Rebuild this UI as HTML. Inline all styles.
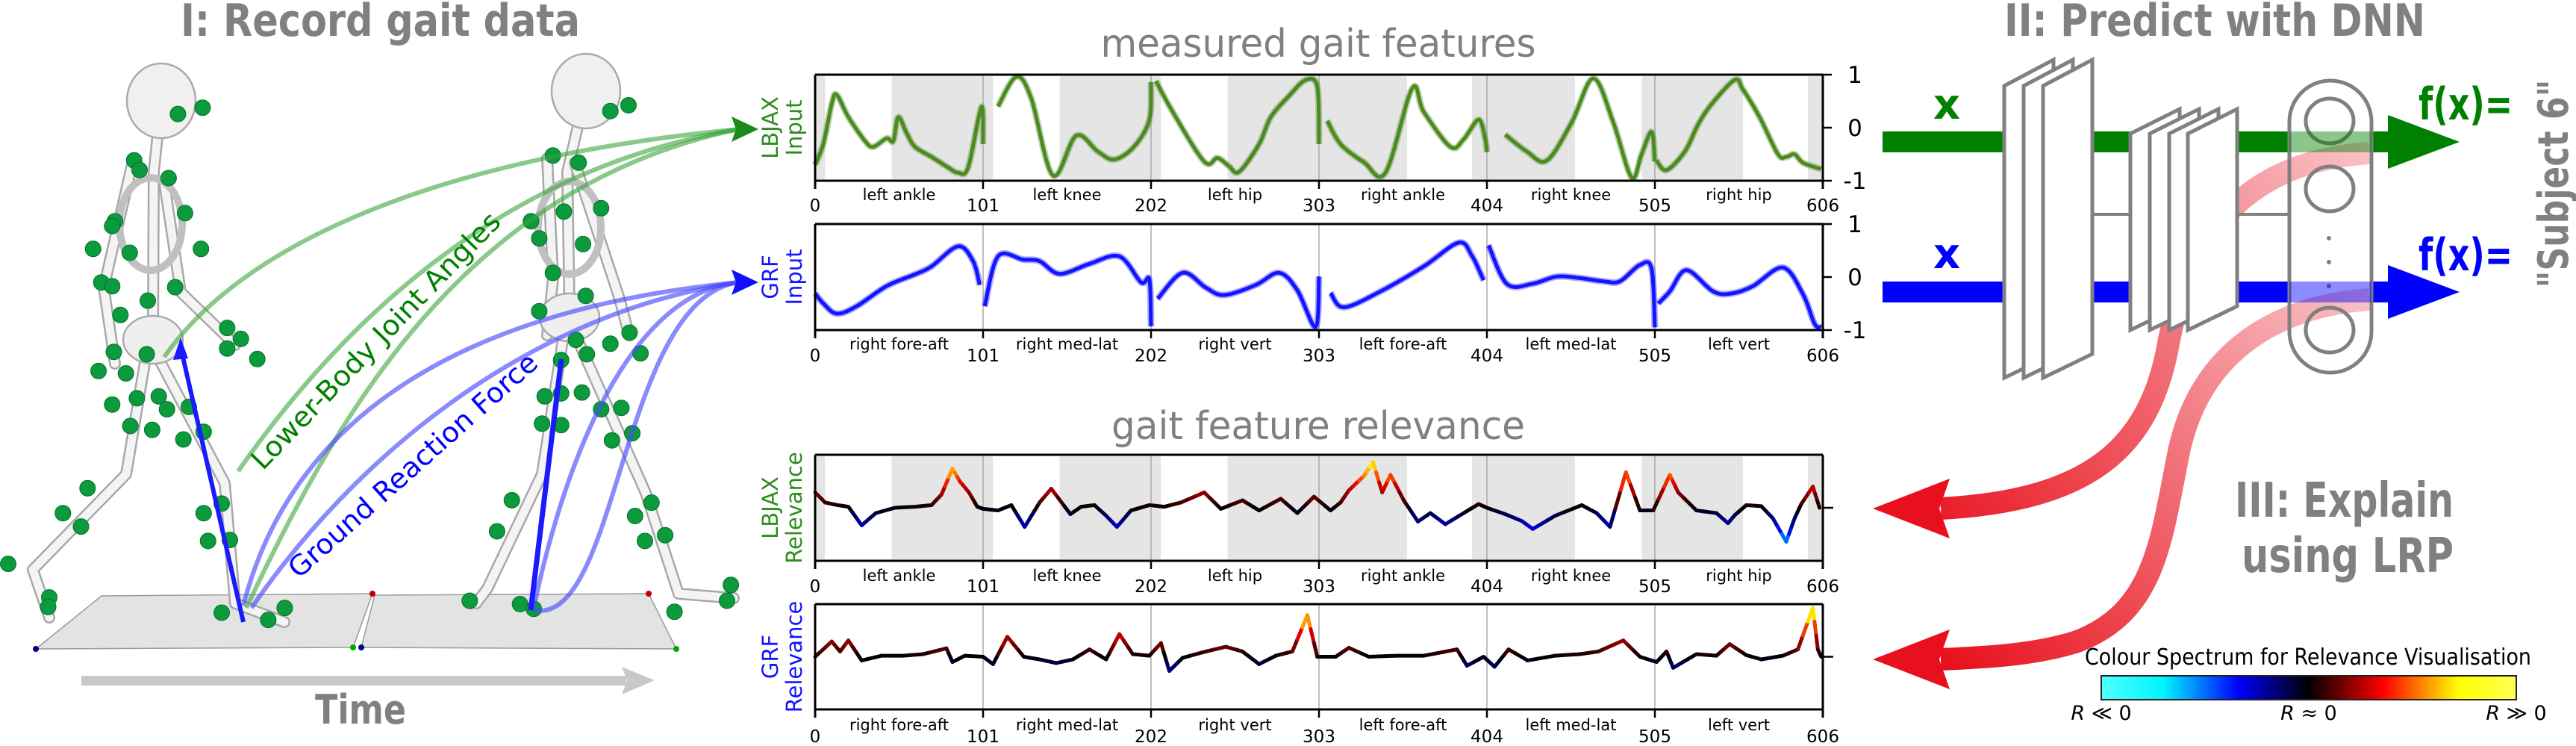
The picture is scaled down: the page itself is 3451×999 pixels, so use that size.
<!DOCTYPE html>
<html><head><meta charset="utf-8"><style>
html,body{margin:0;padding:0;background:#fff;}
svg{display:block;}
text{font-family:"DejaVu Sans","Liberation Sans",sans-serif;}
.ttl{font-family:"DejaVu Sans Condensed","DejaVu Sans",sans-serif;font-weight:bold;fill:#808080;}
</style></head><body>
<svg id="fig" width="3451" height="999" viewBox="0 0 3451 999" xmlns="http://www.w3.org/2000/svg">
<defs>
<linearGradient id="cbar" x1="0" x2="1" y1="0" y2="0">
<stop offset="0" stop-color="#50ffff"/><stop offset="0.15" stop-color="#00f4ff"/><stop offset="0.33" stop-color="#0000ff"/><stop offset="0.5" stop-color="#000"/><stop offset="0.68" stop-color="#ff0000"/><stop offset="0.86" stop-color="#ffff00"/><stop offset="1" stop-color="#ffff55"/>
</linearGradient>
<linearGradient id="red1" gradientUnits="userSpaceOnUse" x1="3174" y1="205" x2="2520" y2="681">
<stop offset="0" stop-color="#f9c2c6"/><stop offset="1" stop-color="#e8101c"/></linearGradient>
<linearGradient id="red2" gradientUnits="userSpaceOnUse" x1="3174" y1="401" x2="2600" y2="883">
<stop offset="0" stop-color="#f9c2c6"/><stop offset="1" stop-color="#e8101c"/></linearGradient>
</defs>

<!-- Panel I -->
<g>
<text class="ttl" x="242" y="48" font-size="60" textLength="535" lengthAdjust="spacingAndGlyphs">I: Record gait data</text>
<polygon points="48,869 136,798 499,795 473,867" fill="#e3e3e3" stroke="#999" stroke-width="1.5"/>
<polygon points="484,867 502,797 869,795 906,869" fill="#e3e3e3" stroke="#999" stroke-width="1.5"/>
<circle cx="48" cy="869" r="4" fill="#00008b"/><circle cx="473" cy="867" r="4" fill="#0a0"/><circle cx="484" cy="867" r="4" fill="#00008b"/><circle cx="906" cy="869" r="4" fill="#0a0"/><circle cx="499" cy="795" r="4" fill="#b00"/><circle cx="869" cy="795" r="4" fill="#b00"/>
<g id="skels" fill="none" stroke-linecap="round" stroke-linejoin="round"></g>
<g id="dots"></g>
<g fill="none" stroke="#3aa53a" stroke-opacity="0.6" stroke-width="6">
<path d="M220,478 C330,320 600,210 990,173"/>
<path d="M319,631 C480,400 700,220 990,173"/>
<path d="M330,814 C450,560 620,250 990,173"/>
</g>
<polygon points="1016,173 980,156 986,173 980,190" fill="#1a8a1a"/>
<g fill="none" stroke="#4b4bff" stroke-opacity="0.65" stroke-width="6">
<path d="M326,811 C380,600 560,420 990,378"/>
<path d="M337,814 C470,620 700,420 990,378"/>
<path d="M715,814 C760,600 850,390 990,378"/>
<path d="M715,817 C830,840 830,400 990,378"/>
</g>
<polygon points="1016,378 980,361 986,378 980,395" fill="#1010ff"/>
<line x1="326" y1="833" x2="245" y2="478" stroke="#1a1aff" stroke-width="6"/>
<polygon points="242,452 232,482 252,480" fill="#1a1aff"/>
<line x1="711" y1="817" x2="752" y2="481" stroke="#1a1aff" stroke-width="7"/>
<text transform="translate(352,631) rotate(-46)" font-size="37" fill="#008000" textLength="462" lengthAdjust="spacingAndGlyphs">Lower-Body Joint Angles</text>
<text transform="translate(400,776) rotate(-41.6)" font-size="37" fill="#0000ff" textLength="432" lengthAdjust="spacingAndGlyphs">Ground Reaction Force</text>
<rect x="109" y="905" width="730" height="13" fill="#c8c8c8"/>
<polygon points="877,911 833,893 840,911 833,930" fill="#c8c8c8"/>
<text class="ttl" x="422" y="969" font-size="54" textLength="122" lengthAdjust="spacingAndGlyphs">Time</text>
</g>

<!-- Charts -->
<g id="charts">
<text class="ttl" x="1766" y="76" font-size="52" text-anchor="middle" textLength="583" lengthAdjust="spacingAndGlyphs" style="font-weight:normal">measured gait features</text>
<text class="ttl" x="1766" y="588" font-size="52" text-anchor="middle" textLength="554" lengthAdjust="spacingAndGlyphs" style="font-weight:normal">gait feature relevance</text>
</g>

<!-- Panel II -->
<g>
<text class="ttl" x="2685" y="48" font-size="60" textLength="564" lengthAdjust="spacingAndGlyphs">II: Predict with DNN</text>
<rect x="2522" y="176" width="545" height="28" fill="#008000"/>
<rect x="3177" y="176" width="25" height="28" fill="#008000"/>
<polygon points="3295,190 3199,154 3199,226" fill="#008000"/>
<rect x="2522" y="377" width="545" height="28" fill="#0000ff"/>
<rect x="3177" y="377" width="25" height="28" fill="#0000ff"/>
<polygon points="3295,391 3199,355 3199,427" fill="#0000ff"/>
<path d="M3174,205 C3020,215 2935,300 2905,460 C2880,600 2800,670 2600,681" fill="none" stroke="url(#red1)" stroke-width="30"/>
<polygon points="2509,681 2612,641 2598,681 2612,721" fill="#e8101c"/>
<path d="M3174,401 C3050,410 2950,470 2920,600 C2895,720 2890,820 2780,860 C2720,878 2660,880 2600,883" fill="none" stroke="url(#red2)" stroke-width="30"/>
<polygon points="2509,883 2612,843 2598,883 2612,923" fill="#e8101c"/>
<g id="layers" fill="#fff" stroke="#808080" stroke-width="5"></g>
<line x1="2805" y1="287" x2="2854" y2="287" stroke="#808080" stroke-width="4"/>
<line x1="2997" y1="287" x2="3067" y2="287" stroke="#808080" stroke-width="4"/>
<rect x="3067" y="108" width="110" height="391" rx="55" fill="none" stroke="#808080" stroke-width="5"/>
<g fill="none" stroke="#808080" stroke-width="5">
<ellipse cx="3121" cy="162" rx="32" ry="30"/><ellipse cx="3121" cy="253" rx="32" ry="30"/><ellipse cx="3121" cy="442" rx="32" ry="30"/>
</g>
<g fill="#808080"><circle cx="3120" cy="319" r="3"/><circle cx="3120" cy="351" r="3"/><circle cx="3120" cy="383" r="3"/></g>
<rect x="3067" y="176" width="110" height="28" fill="#008000" fill-opacity="0.45"/>
<rect x="3067" y="377" width="110" height="28" fill="#0000ff" fill-opacity="0.45"/>
<text x="2608" y="159" font-size="56" font-weight="bold" fill="#008000" text-anchor="middle">x</text>
<text x="2608" y="359" font-size="56" font-weight="bold" fill="#0000ff" text-anchor="middle">x</text>
<text x="3240" y="160" font-size="60" font-weight="bold" fill="#008000" textLength="126" lengthAdjust="spacingAndGlyphs">f(x)=</text>
<text x="3240" y="362" font-size="60" font-weight="bold" fill="#0000ff" textLength="126" lengthAdjust="spacingAndGlyphs">f(x)=</text>
<text class="ttl" transform="translate(3440,246) rotate(-90)" font-size="56" text-anchor="middle" textLength="279" lengthAdjust="spacingAndGlyphs">"Subject 6"</text>
<text class="ttl" x="2994" y="692" font-size="64" textLength="293" lengthAdjust="spacingAndGlyphs">III: Explain</text>
<text class="ttl" x="3003" y="766" font-size="64" textLength="284" lengthAdjust="spacingAndGlyphs">using LRP</text>
<g>
<text x="3092" y="890" font-size="30" text-anchor="middle" textLength="598" lengthAdjust="spacingAndGlyphs">Colour Spectrum for Relevance Visualisation</text>
<rect x="2815" y="905" width="556" height="32" fill="url(#cbar)" stroke="#222" stroke-width="2"/>
<text x="2815" y="964" font-size="27" text-anchor="middle"><tspan font-style="italic">R</tspan> ≪ 0</text>
<text x="3093" y="964" font-size="27" text-anchor="middle"><tspan font-style="italic">R</tspan> ≈ 0</text>
<text x="3371" y="964" font-size="27" text-anchor="middle"><tspan font-style="italic">R</tspan> ≫ 0</text>
</g>
</g>
</svg>
<script>
// ---------- chart data ----------
const segLabelsA = ["left ankle","left knee","left hip","right ankle","right knee","right hip"];
const segLabelsB = ["right fore-aft","right med-lat","right vert","left fore-aft","left med-lat","left vert"];
const tickVals = [0,101,202,303,404,505,606];
const yTickLabels = ["1","0","-1"];
const graySpans = [[0,6],[46,107],[147,208],[248,356],[395,457],[497,558],[597,606]];

const angIdx = [0,5,10,13,20,30,35,43,47,50,55,60,70,80,86,92,100, 101,110,121,130,143,157,170,180,192,201, 202,205,215,234,242,249,255,267,274,285,295,302, 303,308,316,330,343,359,366,382,390,399,403, 404,415,428,440,455,468,480,491,497,503,505, 506,512,523,531,539,553,558,568,579,584,589,594,605];
const angVal = [-0.7,-0.3,0.45,0.62,0.2,-0.25,-0.36,-0.2,-0.25,0.2,-0.1,-0.36,-0.55,-0.75,-0.85,-0.75,0.39, -0.31,0.4,0.96,0.55,-0.9,-0.15,-0.45,-0.6,-0.35,0.15, 0.86,0.88,0.3,-0.64,-0.57,-0.73,-0.83,-0.31,0.2,0.6,0.9,0.77, -0.31,0.13,-0.31,-0.65,-0.85,0.74,0.3,-0.36,-0.22,0.15,-0.22, -0.46,-0.13,-0.45,-0.62,0.1,0.93,0.1,-0.94,-0.5,-0.08,-0.64, -0.62,-0.8,-0.45,0.06,0.44,0.9,0.72,0.2,-0.5,-0.55,-0.5,-0.66,-0.78];

const grfIdx = [0,5,13,25,43,60,70,86,95,99, 102,110,125,135,147,165,183,196,201, 202,206,221,235,246,265,279,290,301, 303,310,318,340,366,387,395,402, 405,416,431,446,460,474,484,496,503, 505,507,514,524,540,551,564,582,594,601,605];
const grfVal = [-0.31,-0.5,-0.69,-0.55,-0.17,0.05,0.2,0.58,0.3,-0.15, -0.55,0.39,0.33,0.3,0.06,0.25,0.39,-0.1,-0.05, -0.93,-0.41,0.08,-0.2,-0.34,-0.15,0.08,-0.25,-0.94, 0.01,-0.3,-0.57,-0.27,0.2,0.65,0.4,-0.06, 0.6,-0.13,-0.13,0.01,-0.02,-0.08,-0.08,0.23,0.16, -0.95,-0.5,-0.27,0.13,-0.27,-0.31,-0.17,0.18,-0.32,-0.88,-0.95];

const relAIdx = [0,6,13.5,20,28,36.5,48,60,70,76,82.6,87,92.5,97.5,101,110,118,126,135,142,153.5,160,168,175,181.5,190,201,210,220,234,244,257,267,280,290,300,310,316,321,330,335.5,341,346,354,362.5,370,379,390,399,404,415,425,431.6,445,461,470,478,487.6,496,504,514,519,530,542,549,553,560,569,576,584,589,593,600,604];
const relAVal = [0.29,0.1,0.05,0.02,-0.33,-0.1,0,0.02,0.05,0.25,0.74,0.5,0.29,0.02,-0.02,-0.05,0.05,-0.36,0.1,0.36,-0.12,0.02,0.05,-0.15,-0.36,-0.05,0.05,0.02,0.1,0.29,-0.02,0.14,-0.05,0.17,-0.1,0.21,-0.05,0.1,0.33,0.6,0.86,0.29,0.62,0.14,-0.26,-0.1,-0.31,-0.1,0.07,0,-0.12,-0.25,-0.4,-0.15,0.05,-0.1,-0.36,0.67,-0.05,-0.05,0.62,0.29,-0.05,-0.1,-0.29,-0.14,0.05,0.03,-0.2,-0.64,-0.2,0.07,0.4,0.0];

const relBIdx = [0,10,15,20,28,40,53,65,79,82.6,90,101,107,115.6,125.5,135,145,155,165,175,183,191,201,208,213,221,235,247,257,267,277,287,296,302,313,321,333,350,366,386,392,402,408.6,417,428.5,445,460,471,486,496,506,512,516,530,542,550,560,569,582,591,600,603,605];
const relBVal = [0,0.29,0.1,0.31,-0.07,0.02,0.02,0.05,0.16,-0.1,0.02,0,-0.14,0.38,0,-0.05,-0.12,-0.05,0.14,-0.05,0.43,0.05,0.02,0.26,-0.27,-0.02,0.1,0.19,0.1,-0.14,0.02,0.1,0.79,0,0,0.17,0,0.02,0.02,0.14,-0.17,0,-0.19,0.14,-0.07,0.02,0.05,0.1,0.31,0,-0.1,0.1,-0.21,0.05,0.02,0.24,0.03,-0.05,0.02,0.14,0.93,0.14,0];

const panels = [
 {top:100,bot:242,labels:segLabelsA,gray:true,labY:268,numY:283,kind:'input'},
 {top:300,bot:442,labels:segLabelsB,gray:false,labY:468,numY:484,kind:'input'},
 {top:609,bot:751,labels:segLabelsA,gray:true,labY:778,numY:793,kind:'rel'},
 {top:809,bot:950,labels:segLabelsB,gray:false,labY:978,numY:994,kind:'rel'}
];
const X0=1092, X1=2442;
function xs(u){return X0+(u/606)*(X1-X0);}
function ys(p,v){return p.top+(1-v)/2*(p.bot-p.top);}
const NS='http://www.w3.org/2000/svg';
function mk(tag,attrs,parent){const e=document.createElementNS(NS,tag);for(const k in attrs)e.setAttribute(k,attrs[k]);parent.appendChild(e);return e;}
function crPath(pts){let d='M'+pts[0][0].toFixed(1)+','+pts[0][1].toFixed(1);
 for(let i=0;i<pts.length-1;i++){const p0=pts[i-1]||pts[i],p1=pts[i],p2=pts[i+1],p3=pts[i+2]||p2;
 d+=' C'+(p1[0]+(p2[0]-p0[0])/6).toFixed(1)+','+(p1[1]+(p2[1]-p0[1])/6).toFixed(1)+' '+(p2[0]-(p3[0]-p1[0])/6).toFixed(1)+','+(p2[1]-(p3[1]-p1[1])/6).toFixed(1)+' '+p2[0].toFixed(1)+','+p2[1].toFixed(1);}
 return d;}
function lerpC(a,b,t){return a.map((x,i)=>Math.round(x+(b[i]-x)*t));}
function cmap(v){const pos=[[0,[0,0,0]],[0.2,[110,0,0]],[0.45,[230,0,0]],[0.65,[255,140,0]],[0.85,[255,255,0]],[1,[255,255,90]]];
 const neg=[[0,[0,0,0]],[0.2,[0,0,110]],[0.4,[0,0,230]],[0.55,[0,90,255]],[0.7,[0,240,255]],[1,[80,255,255]]];
 const s=v>=0?pos:neg,a=Math.min(1,Math.abs(v));
 for(let i=0;i<s.length-1;i++){if(a<=s[i+1][0]){const t=(a-s[i][0])/(s[i+1][0]-s[i][0]);const c=lerpC(s[i][1],s[i+1][1],t);return 'rgb('+c.join(',')+')';}}
 return 'rgb(255,255,90)';}

const charts=document.getElementById('charts');
const seriesList=[[angIdx,angVal,'#4e8a22'],[grfIdx,grfVal,'#1414ff'],[relAIdx,relAVal,null],[relBIdx,relBVal,null]];
const pnames=['lbjax-input-chart','grf-input-chart','lbjax-relevance-chart','grf-relevance-chart'];
panels.forEach((p,pi)=>{
 const g=mk('g',{},charts);
 
 
 if(p.gray){graySpans.forEach(s=>{const r=mk('rect',{x:xs(s[0]),y:p.top+2,width:xs(s[1])-xs(s[0]),height:p.bot-p.top-4,fill:'#e5e5e5',rx:3},g);
  
  });}
 tickVals.slice(1,6).forEach(t=>{mk('line',{x1:xs(t),x2:xs(t),y1:p.top,y2:p.bot,stroke:'#aaa','stroke-width':1.5},g);});
 const [idx,val,col]=seriesList[pi];
 const segs=[];let cur=[];
 idx.forEach((u,i)=>{if(cur.length&&Math.floor(u/101.0001)!==Math.floor(idx[i-1]/101.0001)&&u>=101&&p.kind==='input'){segs.push(cur);cur=[];}cur.push([xs(u),ys(p,val[i]),val[i]]);});
 segs.push(cur);
 if(p.kind==='input'){
  segs.forEach(s=>{
   const pa=mk('path',{d:crPath(s),fill:'none',stroke:col,'stroke-width':9,'stroke-opacity':0.35,'stroke-linejoin':'round'},g);
   
   
   const pb=mk('path',{d:crPath(s),fill:'none',stroke:col,'stroke-width':5,'stroke-linejoin':'round'},g);
   
   
  });
 } else {
  const s=segs[0];
  for(let i=0;i<s.length-1;i++){
   const a=s[i],b=s[i+1];
   for(let k=0;k<3;k++){const t0=k/3,t1=(k+1)/3;
    const v=a[2]+(b[2]-a[2])*(t0+t1)/2;
    const l=mk('line',{x1:a[0]+(b[0]-a[0])*t0,y1:a[1]+(b[1]-a[1])*t0,x2:a[0]+(b[0]-a[0])*t1,y2:a[1]+(b[1]-a[1])*t1,stroke:cmap(v),'stroke-width':5,'stroke-linecap':'round'},g);
    
    }
  }
 }
 mk('line',{x1:X0,x2:X1,y1:p.top,y2:p.top,stroke:'#000','stroke-width':3},g);
 mk('line',{x1:X0,x2:X1,y1:p.bot,y2:p.bot,stroke:'#000','stroke-width':3},g);
 mk('line',{x1:X0,x2:X0,y1:p.top,y2:p.bot+11,stroke:'#000','stroke-width':3},g);
 mk('line',{x1:X1,x2:X1,y1:p.top,y2:p.bot+11,stroke:'#000','stroke-width':3},g);
 tickVals.forEach(t=>{mk('line',{x1:xs(t),x2:xs(t),y1:p.bot,y2:p.bot+11,stroke:'#000','stroke-width':2.5},g);
  const tx=mk('text',{x:xs(t),y:p.numY,'font-size':23,'text-anchor':'middle'},g);tx.textContent=String(t);
  
  });
 p.labels.forEach((lb,i)=>{const tx=mk('text',{x:xs(tickVals[i]+50.5),y:p.labY,'font-size':21,'text-anchor':'middle'},g);tx.textContent=lb;
  
  });
 if(p.kind==='input'){
  [1,0,-1].forEach((v,i)=>{mk('line',{x1:X1,x2:X1+12,y1:ys(p,v),y2:ys(p,v),stroke:'#000','stroke-width':2.5},g);
   const tx=mk('text',{x:X1+43,y:ys(p,v)+11,'font-size':31,'text-anchor':'middle'},g);tx.textContent=yTickLabels[i];
   
   });
 } else {
  mk('line',{x1:X1,x2:X1+14,y1:ys(p,0),y2:ys(p,0),stroke:'#000','stroke-width':2.5},g);
 }
 const isA=(pi%2===0), colT=isA?'#2e8b1e':'#1414ff';
 const first=isA?'LBJAX':'GRF', second=p.kind==='input'?'Input':'Relevance';
 const cy=(p.top+p.bot)/2;
 const t1=mk('text',{transform:'translate(1042,'+cy+') rotate(-90)','font-size':29,'text-anchor':'middle',fill:colT},g);t1.textContent=first;
 
 
 const t2=mk('text',{transform:'translate(1074,'+cy+') rotate(-90)','font-size':29,'text-anchor':'middle',fill:colT},g);t2.textContent=second;
 
 
});

// ---------- DNN layers ----------
const lay=document.getElementById('layers');
[2685,2711,2737].forEach(x=>{const e=mk('polygon',{points:x+',115 '+(x+66)+',80 '+(x+66)+',474 '+x+',506'},lay);
 
 });
[2854,2880,2906,2931].forEach(x=>{const e=mk('polygon',{points:x+',179 '+(x+66)+',146 '+(x+66)+',410 '+x+',442'},lay);
 
 });

// ---------- skeletons (illustration) ----------
const sk=document.getElementById('skels');
const bones=[
 [[216,135],[206,230],[205,449]],[[198,462],[169,635],[44,763],[66,827]],[[213,481],[301,647],[315,808],[381,833]],
 [[176,224],[139,385],[154,487]],[[220,244],[242,391],[315,462]],
 [[785,122],[760,230],[763,417]],[[755,449],[726,635],[653,788],[638,808]],[[777,462],[865,660],[909,795],[983,801]],
 [[733,212],[741,372],[733,449]],[[770,218],[829,397],[843,449]]];
bones.forEach(b=>{const d='M'+b.map(q=>q.join(',')).join(' L');
 mk('path',{d:d,stroke:'#a8a8a8','stroke-width':16},sk);mk('path',{d:d,stroke:'#f4f4f4','stroke-width':11},sk);});
[[202,300,42,62],[763,305,42,62]].forEach(s=>mk('ellipse',{cx:s[0],cy:s[1],rx:s[2],ry:s[3],fill:'none',stroke:'#c0c0c0','stroke-width':10},sk));
[[205,455,40,32],[763,425,40,32]].forEach(s=>mk('ellipse',{cx:s[0],cy:s[1],rx:s[2],ry:s[3],fill:'#efefef',stroke:'#aaa','stroke-width':2.5},sk));
[[216,135,46,50],[785,122,46,50]].forEach(s=>mk('ellipse',{cx:s[0],cy:s[1],rx:s[2],ry:s[3],fill:'#f0f0f0',stroke:'#aaa','stroke-width':2.5},sk));
const dg=document.getElementById('dots');
const dotZ=[[325,238],[370,225],[245,335],[255,355],[308,372],[338,445],[210,462],[205,472],[170,520],[237,528],[367,520],[185,590],[205,598],[320,600],[270,628],[220,658],[415,685],[440,708],[415,728],[470,750],[208,735],[268,740],[180,775],[230,780],[205,845],[250,832],[290,828],[305,855],[345,850],[238,890],[278,898],[335,918],[372,902],[160,1020],[115,1072],[148,1100],[405,1052],[372,1072],[380,1130],[420,1128],[15,1178],[90,1248],[88,1268],[405,1280],[490,1295],[520,1270],
[1115,232],[1148,220],[1010,325],[1057,340],[1030,442],[1098,435],[970,462],[985,498],[1065,510],[1010,570],[1070,618],[985,650],[1150,695],[1052,710],[1115,718],[1170,738],[1025,752],[1072,740],[995,828],[1025,822],[1063,820],[1098,855],[1135,852],[990,885],[1025,888],[1118,920],[1155,905],[935,1045],[908,1110],[1190,1050],[1160,1078],[1215,1118],[1178,1130],[858,1255],[950,1262],[975,1272],[1232,1278],[1335,1222],[1328,1255]];
dotZ.forEach(q=>{mk('circle',{cx:(q[0]/1.3635).toFixed(1),cy:(q[1]/1.56).toFixed(1),r:10.5,fill:'#0b9a3c',stroke:'#06702a','stroke-width':1},dg);});
</script>
</body></html>
